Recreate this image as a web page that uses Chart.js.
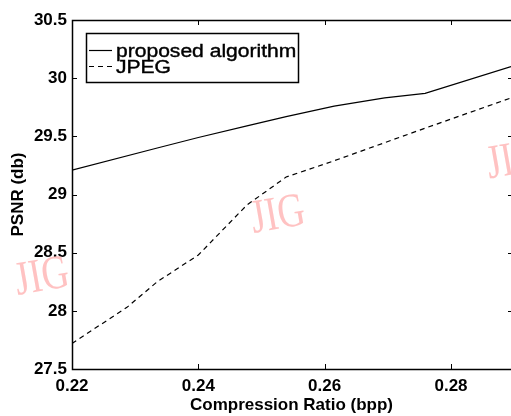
<!DOCTYPE html>
<html>
<head>
<meta charset="utf-8">
<script src="https://cdn.jsdelivr.net/npm/chart.js@4/dist/chart.umd.min.js"></script>
<style>
  html, body { margin: 0; padding: 0; background: #fff; }
  #wrap { width: 511px; height: 416px; }
</style>
</head>
<body>
<div id="wrap"><canvas id="my-chart" width="511" height="416"></canvas></div>
<script>
// values
const proposedBpp = [0.22, 0.2335, 0.24, 0.2477, 0.2539, 0.2615, 0.2695, 0.2759, 0.2895];
const proposedPsnr = [29.21, 29.40, 29.49, 29.59, 29.67, 29.76, 29.83, 29.87, 30.10];
const jpegBpp = [0.22, 0.2287, 0.2335, 0.24, 0.2477, 0.2539, 0.2615, 0.2759, 0.2895];
const jpegPsnr = [27.72, 28.03, 28.25, 28.48, 28.91, 29.15, 29.29, 29.57, 29.83];
const seriesNames = ["proposed algorithm", "JPEG"];
const xTicks = [0.22, 0.24, 0.26, 0.28];
const yTicks = [27.5, 28, 28.5, 29, 29.5, 30, 30.5];
const xTitle = "Compression Ratio (bpp)";
const yTitle = "PSNR (db)";
const watermark = "JIG";

const toPoints = (xs, ys) => xs.map((x, i) => ({ x: x, y: ys[i] }));
const sans = "'Liberation Sans', Arial, sans-serif";

// pink watermarks behind the lines
const watermarks = {
  id: "watermarks",
  beforeDatasetsDraw(chart) {
    const { ctx } = chart;
    const spots = [[42, 278, "center"], [278, 216, "center"], [487, 166, "left"]];
    ctx.save();
    ctx.fillStyle = "#ffc2c2";
    ctx.font = "48px 'Liberation Serif', 'Times New Roman', serif";
    ctx.textBaseline = "middle";
    spots.forEach(([px, py, align]) => {
      ctx.save();
      ctx.translate(px, py);
      ctx.rotate(-10 * Math.PI / 180);
      ctx.scale(0.78, 1);
      ctx.textAlign = align;
      ctx.fillText(watermark, 0, 0);
      ctx.restore();
    });
    ctx.restore();
  },
};

// matlab style box with inward ticks
const frame = {
  id: "frame",
  afterDatasetsDraw(chart) {
    const { ctx, chartArea: a, scales: { x, y } } = chart;
    ctx.save();
    ctx.strokeStyle = "#000";
    ctx.lineWidth = 1.5;
    ctx.beginPath();
    ctx.moveTo(a.right, a.top + 0.5);
    ctx.lineTo(a.left + 0.5, a.top + 0.5);
    ctx.lineTo(a.left + 0.5, a.bottom + 0.5);
    ctx.lineTo(a.right, a.bottom + 0.5);
    ctx.stroke();
    ctx.lineWidth = 1;
    ctx.beginPath();
    x.ticks.forEach((t) => {
      const px = Math.round(x.getPixelForValue(t.value)) + 0.5;
      ctx.moveTo(px, a.bottom); ctx.lineTo(px, a.bottom - 5);
      ctx.moveTo(px, a.top); ctx.lineTo(px, a.top + 5);
    });
    y.ticks.forEach((t) => {
      const py = Math.round(y.getPixelForValue(t.value)) + 0.5;
      ctx.moveTo(a.left, py); ctx.lineTo(a.left + 5, py);
      ctx.moveTo(a.right, py); ctx.lineTo(a.right - 3, py);
    });
    ctx.stroke();
    ctx.restore();
  },
};

// boxed legend with overlapping entries, as in the figure
const boxLegend = {
  id: "boxLegend",
  afterDraw(chart) {
    const { ctx } = chart;
    const ds = chart.data.datasets;
    ctx.save();
    ctx.fillStyle = "#fff";
    ctx.fillRect(86, 33, 212, 49);
    ctx.strokeStyle = "#000";
    ctx.lineWidth = 1.5;
    ctx.strokeRect(86.5, 33.5, 212, 49);
    const rows = [50, 66];
    ds.forEach((d, i) => {
      ctx.lineWidth = 1.2;
      ctx.setLineDash(d.borderDash || []);
      ctx.beginPath();
      ctx.moveTo(89, rows[i] + 0.5);
      ctx.lineTo(112, rows[i] + 0.5);
      ctx.stroke();
      ctx.setLineDash([]);
      ctx.save();
      ctx.translate(116, rows[i] + 7);
      ctx.scale(1.17, 1);
      ctx.fillStyle = "#000";
      ctx.strokeStyle = "#000";
      ctx.lineWidth = 0.4;
      ctx.font = "18px " + sans;
      ctx.textBaseline = "alphabetic";
      ctx.fillText(d.label, 0, 0);
      ctx.strokeText(d.label, 0, 0);
      ctx.restore();
    });
    ctx.restore();
  },
};

const ctx = document.getElementById("my-chart").getContext("2d");

const myChart = new Chart(ctx, {
  type: "line",
  data: {
    datasets: [
      {
        label: seriesNames[0],
        data: toPoints(proposedBpp, proposedPsnr),
        borderColor: "#000",
        borderWidth: 1.2,
        pointRadius: 0,
        tension: 0,
        fill: false,
      },
      {
        label: seriesNames[1],
        data: toPoints(jpegBpp, jpegPsnr),
        borderColor: "#000",
        borderWidth: 1.2,
        borderDash: [5, 4],
        pointRadius: 0,
        tension: 0,
        fill: false,
      },
    ],
  },
  options: {
    responsive: false,
    animation: false,
    layout: { padding: { top: 20, right: 0, left: 0, bottom: 0 } },
    plugins: {
      legend: { display: false },
      tooltip: { enabled: false },
    },
    scales: {
      x: {
        type: "linear",
        min: 0.22,
        max: 0.2895,
        grid: { display: false, drawTicks: false },
        border: { display: false },
        afterBuildTicks: (scale) => { scale.ticks = xTicks.map((v) => ({ value: v })); },
        afterFit: (scale) => { scale.height = 47; },
        ticks: {
          color: "#000",
          padding: 7,
          maxRotation: 0,
          font: { family: sans, size: 17, weight: "bold" },
          callback: (v) => String(v),
        },
        title: {
          display: true,
          text: xTitle,
          color: "#000",
          padding: { top: 0, bottom: 0 },
          font: { family: sans, size: 17, weight: "bold" },
        },
      },
      y: {
        min: 27.5,
        max: 30.5,
        grid: { display: false, drawTicks: false },
        border: { display: false },
        afterBuildTicks: (scale) => { scale.ticks = yTicks.map((v) => ({ value: v })); },
        afterFit: (scale) => { scale.width = 72; },
        ticks: {
          color: "#000",
          padding: 5,
          font: { family: sans, size: 17, weight: "bold" },
          callback: (v) => String(v),
        },
        title: {
          display: true,
          text: yTitle,
          color: "#000",
          padding: { top: 8, bottom: 0 },
          font: { family: sans, size: 17, weight: "bold" },
        },
      },
    },
  },
  plugins: [watermarks, frame, boxLegend],
});
</script>
</body>
</html>
